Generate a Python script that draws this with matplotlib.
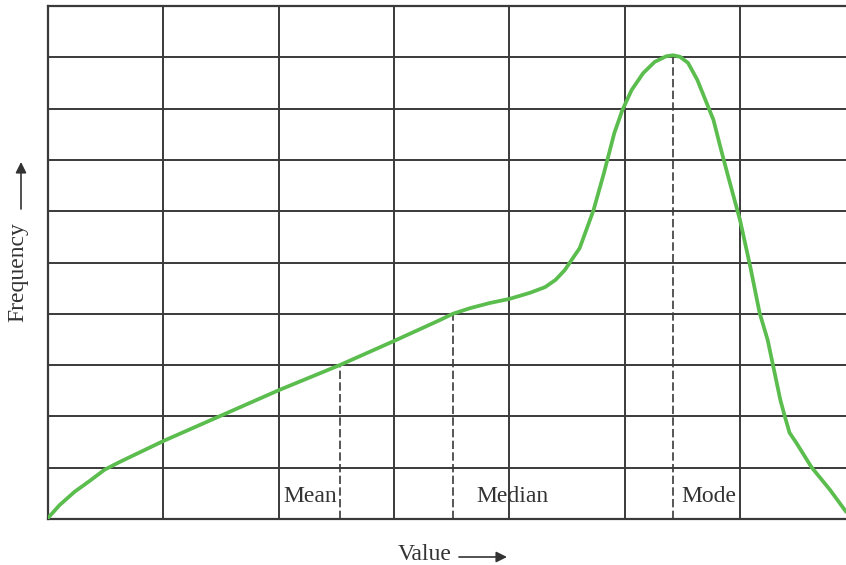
import numpy as np
import matplotlib.pyplot as plt

# curve (x in grid columns, y in grid rows)
curve_x = [0.00, 0.10, 0.23, 0.36, 0.49, 0.62, 1.00, 2.00, 2.53, 3.00, 3.40, 3.51,
           3.66, 3.83, 4.00, 4.18, 4.31, 4.40, 4.48, 4.54, 4.61, 4.73, 4.82, 4.91,
           4.98, 5.06, 5.16, 5.26, 5.36, 5.42, 5.48, 5.55, 5.63, 5.70, 5.77, 5.83,
           5.89, 5.96, 6.00, 6.09, 6.17, 6.24, 6.29, 6.35, 6.39, 6.43, 6.49, 6.62,
           6.78, 6.92]
curve_y = [0.02, 0.27, 0.53, 0.74, 0.96, 1.11, 1.52, 2.51, 3.00, 3.47, 3.88, 4.00,
           4.11, 4.21, 4.29, 4.41, 4.52, 4.66, 4.85, 5.05, 5.28, 6.02, 6.74, 7.52,
           7.97, 8.36, 8.69, 8.91, 9.02, 9.04, 9.01, 8.89, 8.56, 8.17, 7.78, 7.25,
           6.74, 6.16, 5.83, 4.91, 4.02, 3.49, 2.96, 2.32, 1.99, 1.68, 1.48, 1.01,
           0.57, 0.14]

marker_names = ["Mean", "Median", "Mode"]
marker_x = [2.53, 3.51, 5.42]
marker_y = [3.00, 4.00, 9.04]
label_x = [2.04, 3.71, 5.49]

GRID = "#3a3a3a"
GREEN = "#5bbd4e"

plt.rcParams["font.family"] = ["Liberation Serif", "DejaVu Serif"]

fig = plt.figure(figsize=(8.46, 5.65), dpi=100)
ax = fig.add_axes([48 / 846, 46 / 565, 798 / 846, 513 / 565])
ax.set_xlim(0, 798 / 115.33)
ax.set_ylim(0, 10)

for gx in range(1, 7):
    ax.axvline(gx, color=GRID, lw=1.4, zorder=1)
for gy in range(1, 10):
    ax.axhline(gy, color=GRID, lw=1.4, zorder=1)

for side in ["left", "bottom", "top"]:
    ax.spines[side].set_color(GRID)
    ax.spines[side].set_linewidth(1.6)
ax.spines["right"].set_visible(False)
ax.set_xticks([])
ax.set_yticks([])

for mx, my in zip(marker_x, marker_y):
    ax.plot([mx, mx], [0, my], color=GRID, lw=1.2, ls=(0, (5, 2)), zorder=2)

ax.plot(curve_x, curve_y, color=GREEN, lw=2.7, solid_capstyle="round",
        solid_joinstyle="round", zorder=3)

for name, lx in zip(marker_names, label_x):
    ax.text(lx, 0.44, name, fontsize=17, color="#333333", ha="left", va="center", zorder=4)

fig.text(398 / 846, 1 - 554 / 565, "Value", fontsize=17, color="#333333",
         ha="left", va="center")
fig.add_artist(plt.matplotlib.patches.FancyArrowPatch(
    (459 / 846, 1 - 557 / 565), (507 / 846, 1 - 557 / 565),
    transform=fig.transFigure, arrowstyle="-|>", mutation_scale=16,
    color="#333333", lw=1.2, shrinkA=0, shrinkB=0))

fig.text(18 / 846, 1 - 272 / 565, "Frequency", fontsize=17, color="#333333",
         rotation=90, ha="center", va="center")
fig.add_artist(plt.matplotlib.patches.FancyArrowPatch(
    (21 / 846, 1 - 209 / 565), (21 / 846, 1 - 162 / 565),
    transform=fig.transFigure, arrowstyle="-|>", mutation_scale=16,
    color="#333333", lw=1.2, shrinkA=0, shrinkB=0))

fig.savefig("out.png", dpi=100)
